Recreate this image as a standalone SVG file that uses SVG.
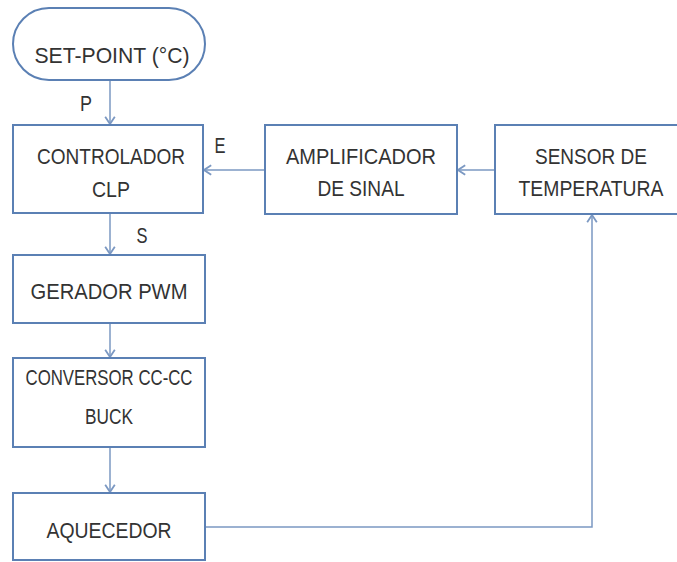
<svg xmlns="http://www.w3.org/2000/svg" width="677" height="562" viewBox="0 0 677 562">
<style>
.box{fill:#ffffff;stroke:#5b80b4;stroke-width:2}
.t{font-family:"Liberation Sans",Arial,sans-serif;font-size:22px;fill:#333333;text-anchor:middle}
.c{fill:none;stroke:#7b98c2;stroke-width:1.5}
</style>
<defs>
<marker id="arr" markerUnits="userSpaceOnUse" markerWidth="12" markerHeight="12" refX="9" refY="5" orient="auto" viewBox="0 0 10 10">
<path d="M3,1 L9,5 L3,9" fill="none" stroke="#7b98c2" stroke-width="1.5"/>
</marker>
</defs>
<rect width="677" height="562" fill="#ffffff"/>
<g id="connectors">
<line class="c" x1="110" y1="80" x2="110" y2="124" marker-end="url(#arr)"/>
<line class="c" x1="110" y1="213" x2="110" y2="254" marker-end="url(#arr)"/>
<line class="c" x1="110" y1="323" x2="110" y2="357" marker-end="url(#arr)"/>
<line class="c" x1="110" y1="447" x2="110" y2="492" marker-end="url(#arr)"/>
<line class="c" x1="265" y1="170" x2="204" y2="170" marker-end="url(#arr)"/>
<line class="c" x1="495" y1="170" x2="458" y2="170" marker-end="url(#arr)"/>
<polyline class="c" points="205,527 592,527 592,215" marker-end="url(#arr)"/>
<text class="t" x="86" y="111" textLength="12" lengthAdjust="spacingAndGlyphs">P</text>
<text class="t" x="142" y="243" textLength="11" lengthAdjust="spacingAndGlyphs">S</text>
<text class="t" x="220" y="153" textLength="11" lengthAdjust="spacingAndGlyphs">E</text>
</g>
<g id="setpoint">
<rect class="box" x="13" y="8" width="192" height="72" rx="36" ry="36"/>
<text class="t" x="112" y="63" textLength="155" lengthAdjust="spacingAndGlyphs">SET-POINT (°C)</text>
</g>
<g id="controlador">
<rect class="box" x="13" y="125" width="190" height="88"/>
<text class="t" x="111" y="164" textLength="148" lengthAdjust="spacingAndGlyphs">CONTROLADOR</text>
<text class="t" x="111" y="197" textLength="38" lengthAdjust="spacingAndGlyphs">CLP</text>
</g>
<g id="amplificador">
<rect class="box" x="265" y="125" width="192" height="89"/>
<text class="t" x="361" y="164" textLength="150" lengthAdjust="spacingAndGlyphs">AMPLIFICADOR</text>
<text class="t" x="361" y="196" textLength="87" lengthAdjust="spacingAndGlyphs">DE SINAL</text>
</g>
<g id="sensor">
<rect class="box" x="495" y="125" width="183" height="89"/>
<text class="t" x="591" y="164" textLength="112" lengthAdjust="spacingAndGlyphs">SENSOR DE</text>
<text class="t" x="591" y="196" textLength="145" lengthAdjust="spacingAndGlyphs">TEMPERATURA</text>
</g>
<g id="gerador">
<rect class="box" x="13" y="255" width="192" height="68"/>
<text class="t" x="109" y="299" textLength="157" lengthAdjust="spacingAndGlyphs">GERADOR PWM</text>
</g>
<g id="conversor">
<rect class="box" x="13" y="358" width="192" height="89"/>
<text class="t" x="109" y="385" textLength="167" lengthAdjust="spacingAndGlyphs">CONVERSOR CC-CC</text>
<text class="t" x="109" y="424" textLength="48" lengthAdjust="spacingAndGlyphs">BUCK</text>
</g>
<g id="aquecedor">
<rect class="box" x="13" y="493" width="192" height="67"/>
<text class="t" x="109" y="538" textLength="125" lengthAdjust="spacingAndGlyphs">AQUECEDOR</text>
</g>
</svg>
